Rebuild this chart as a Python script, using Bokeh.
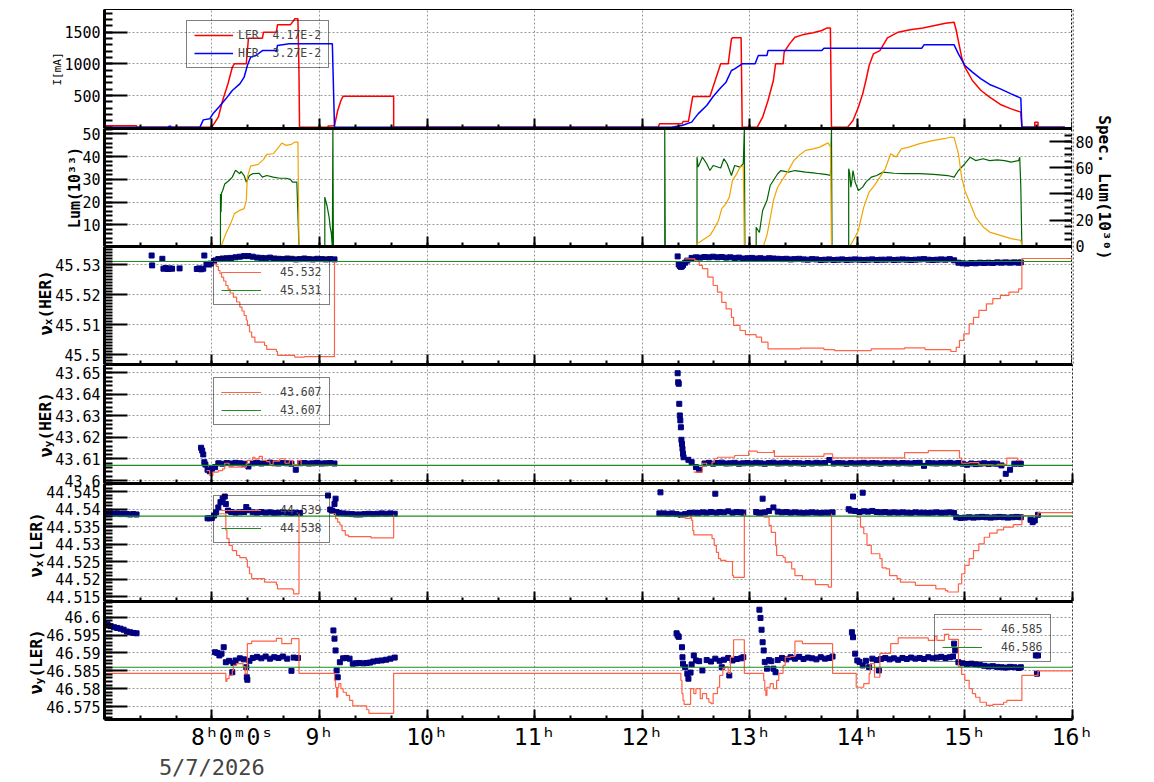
import math
from bokeh.plotting import figure
from bokeh.layouts import column, row
from bokeh.models import (Range1d, LinearAxis, FixedTicker, SingleIntervalTicker,
                          CustomJSTickFormatter, Legend, LegendItem, Span)
from bokeh.core.properties import value
from bokeh.embed import file_html
from bokeh.resources import INLINE

# ---------------------------------------------------------------- data
# time in hours of the day, values as logged

LER_CURRENT = [
    (7.00, 21), (7.30, 21), (7.30, 0), (8.00, 0), (8.06, 157), (8.10, 421), (8.15, 685),
    (8.19, 947), (8.21, 1000), (8.32, 1000), (8.34, 1405), (8.47, 1405), (8.48, 1500),
    (8.60, 1500), (8.61, 1616), (8.73, 1616), (8.75, 1660), (8.77, 1711), (8.80, 1711),
    (8.81, 843), (8.815, 0), (9.08, 0), (9.08, 20), (9.12, 20), (9.14, 26), (9.17, 263),
    (9.20, 421), (9.22, 489), (9.69, 489), (9.69, 0), (12.15, 0), (12.16, 52), (12.37, 52),
    (12.38, 89), (12.43, 89), (12.47, 484), (12.63, 484), (12.73, 1000), (12.80, 1000),
    (12.83, 1395), (12.84, 1411), (12.92, 1411), (12.93, 0), (13.07, 0), (13.12, 157),
    (13.17, 421), (13.22, 737), (13.24, 1000), (13.31, 1000), (13.32, 1184), (13.37, 1316),
    (13.42, 1421), (13.49, 1458), (13.59, 1490), (13.67, 1527), (13.72, 1568), (13.75, 1568),
    (13.76, 0), (13.91, 0), (13.96, 105), (14.01, 315), (14.05, 526), (14.08, 737),
    (14.11, 974), (14.15, 1158), (14.21, 1210), (14.28, 1411), (14.38, 1500), (14.49, 1537),
    (14.61, 1568), (14.72, 1605), (14.82, 1642), (14.90, 1658), (14.92, 1527), (14.97, 1105),
    (15.00, 947), (15.07, 737), (15.15, 579), (15.23, 473), (15.33, 358), (15.43, 289),
    (15.52, 237), (15.53, 0), (15.65, 0), (15.65, 78), (15.68, 78), (15.68, 0), (15.93, 0),
]
HER_CURRENT = [
    (7.00, 0), (7.60, 0), (7.60, 15), (7.62, 15), (7.62, 0), (7.89, 0), (7.92, 115),
    (7.98, 131), (8.01, 210), (8.07, 326), (8.13, 447), (8.19, 579), (8.26, 684), (8.30, 789),
    (8.33, 974), (8.36, 1105), (8.41, 1132), (8.47, 1210), (8.60, 1210), (8.61, 1290),
    (8.72, 1316), (9.12, 1316), (9.14, 0), (12.27, 0), (12.37, 26), (12.46, 79), (12.52, 210),
    (12.60, 342), (12.66, 484), (12.73, 621), (12.78, 711), (12.83, 895), (12.86, 921),
    (12.93, 1000), (13.05, 1000), (13.08, 1132), (13.16, 1132), (13.17, 1210), (13.67, 1210),
    (13.69, 1248), (14.60, 1248), (14.62, 1300), (14.90, 1300), (14.94, 1158), (15.00, 974),
    (15.07, 869), (15.15, 763), (15.23, 674), (15.33, 605), (15.43, 526), (15.52, 458),
    (15.53, 0), (15.93, 0),
]
LER_LABEL = "LER  4.17E-2"
HER_LABEL = "HER  3.27E-2"
CURRENT_TITLE = "I[mA]"

# luminosity [10^33] and specific luminosity [10^30]
LUMINOSITY = [
    (8.08, 0), (8.08, 23.6), (8.085, 15.5), (8.09, 24.0), (8.10, 25.0), (8.12, 28.0),
    (8.16, 29.5), (8.19, 31.0), (8.22, 34.0), (8.26, 32.5), (8.27, 33.5), (8.30, 31.7),
    (8.32, 28.8), (8.35, 31.7), (8.38, 32.5), (8.44, 32.7), (8.47, 31.0), (8.51, 31.7),
    (8.57, 31.0), (8.63, 30.5), (8.69, 30.5), (8.73, 30.0), (8.75, 28.8), (8.79, 28.8),
    (8.80, 14.8), (8.81, 0), (9.05, 0), (9.05, 22.2), (9.07, 18.5), (9.09, 13.4),
    (9.10, 8.9), (9.11, 6.6), (9.12, 0), (9.125, 52.4), (9.13, 0), (12.21, 0), (12.21, 52.4),
    (12.215, 0), (12.51, 0), (12.51, 39.8), (12.52, 35.4), (12.56, 39.8), (12.60, 36.9),
    (12.63, 33.9), (12.66, 36.1), (12.73, 35.0), (12.76, 39.1), (12.79, 36.9), (12.83, 31.7),
    (12.86, 36.1), (12.91, 35.4), (12.94, 36.9), (12.95, 52.4), (12.955, 0), (13.06, 0),
    (13.06, 8.9), (13.09, 6.6), (13.12, 16.3), (13.16, 20.7), (13.19, 27.3), (13.22, 29.5),
    (13.26, 32.5), (13.29, 33.9), (13.36, 33.2), (13.42, 33.9), (13.52, 33.2), (13.59, 32.9),
    (13.65, 32.5), (13.72, 32.1), (13.75, 31.7), (13.76, 52.4), (13.765, 0), (13.92, 0),
    (13.92, 34.7), (13.93, 32.5), (13.94, 26.6), (13.95, 29.5), (13.96, 33.9), (13.98, 28.8),
    (14.01, 25.1), (14.05, 26.6), (14.08, 28.8), (14.13, 31.0), (14.18, 31.7), (14.24, 33.2),
    (14.34, 32.7), (14.44, 32.5), (14.58, 32.5), (14.71, 32.2), (14.84, 31.7), (14.90, 31.0),
    (14.94, 33.9), (15.00, 36.9), (15.05, 39.8), (15.10, 38.3), (15.17, 39.1), (15.23, 38.3),
    (15.30, 38.6), (15.37, 38.3), (15.43, 37.6), (15.50, 38.3), (15.51, 39.8), (15.52, 26.6),
    (15.53, 0), (15.93, 0),
]
SPEC_LUMINOSITY = [
    (8.08, 0), (8.09, 0.8), (8.13, 9.7), (8.18, 18.5), (8.21, 25.0), (8.26, 27.5),
    (8.30, 28.8), (8.32, 35.1), (8.33, 52.9), (8.36, 61.3), (8.43, 62.6), (8.48, 66.2),
    (8.51, 70.2), (8.57, 70.7), (8.61, 74.6), (8.65, 78.9), (8.69, 77.1), (8.74, 77.9),
    (8.77, 79.6), (8.80, 79.6), (8.81, 0), (12.51, 0), (12.51, 2.0), (12.56, 4.6),
    (12.63, 8.4), (12.66, 12.2), (12.71, 19.8), (12.74, 28.8), (12.78, 32.6), (12.81, 37.6),
    (12.84, 50.4), (12.88, 55.5), (12.91, 60.5), (12.94, 61.8), (12.95, 0), (13.12, 0),
    (13.13, 1.0), (13.16, 8.4), (13.19, 21.1), (13.22, 35.1), (13.26, 45.3), (13.29, 49.1),
    (13.36, 58.0), (13.41, 65.6), (13.46, 69.5), (13.52, 73.3), (13.59, 74.5), (13.65, 75.8),
    (13.70, 77.9), (13.73, 79.0), (13.75, 75.8), (13.76, 0), (13.93, 0), (13.98, 7.1),
    (14.01, 12.2), (14.06, 30.0), (14.11, 41.5), (14.16, 46.6), (14.21, 52.9), (14.26, 59.3),
    (14.31, 70.7), (14.36, 68.2), (14.41, 74.5), (14.48, 75.8), (14.58, 78.4), (14.71, 80.9),
    (14.81, 82.2), (14.87, 83.5), (14.90, 83.0), (14.94, 70.7), (14.97, 52.9), (15.00, 42.7),
    (15.05, 32.6), (15.10, 22.4), (15.17, 14.8), (15.23, 10.9), (15.33, 8.4), (15.43, 5.9),
    (15.52, 4.6), (15.53, 0), (15.93, 0),
]
LUM_TITLE = "Lum(10\u00b3\u00b3)"
SPEC_TICKS = [0, 20, 40, 60, 80]
SPEC_TITLE = "Spec. Lum(10\u00b3\u2070)"

# HER horizontal tune: set value (steps), reference, measured
HER_NUX_SET_1 = [
    (8.01, 45.5302), (8.04, 45.5294), (8.06, 45.5280), (8.075, 45.5270), (8.09, 45.5258),
    (8.11, 45.5245), (8.13, 45.5230), (8.15, 45.5218), (8.17, 45.5205), (8.20, 45.5191),
    (8.23, 45.5175), (8.26, 45.5158), (8.28, 45.5145), (8.30, 45.5130), (8.32, 45.5115),
    (8.33, 45.5097), (8.35, 45.5075), (8.37, 45.5058), (8.40, 45.5041), (8.49, 45.5030),
    (8.51, 45.5017), (8.60, 45.5010), (8.61, 45.4997), (8.77, 45.4991), (8.86, 45.4993),
    (9.14, 45.5308),
]
HER_NUX_SET_2 = [
    (12.40, 45.5319), (12.49, 45.5311), (12.53, 45.5297), (12.56, 45.5286), (12.61, 45.5258),
    (12.66, 45.5230), (12.70, 45.5208), (12.74, 45.5174), (12.78, 45.5152), (12.83, 45.5124),
    (12.85, 45.5097), (12.91, 45.5080), (12.96, 45.5066), (13.06, 45.5058), (13.11, 45.5041),
    (13.17, 45.5019), (13.47, 45.5021), (13.69, 45.5016), (13.79, 45.5013), (14.13, 45.5019),
    (14.44, 45.5022), (14.63, 45.5016), (14.87, 45.5010), (14.92, 45.5024), (14.95, 45.5047),
    (14.99, 45.5069), (15.04, 45.5102), (15.08, 45.5124), (15.13, 45.5147), (15.20, 45.5169),
    (15.26, 45.5186), (15.33, 45.5197), (15.41, 45.5208), (15.50, 45.5219), (15.53, 45.532),
    (16.00, 45.532),
]
HER_NUX_SET_LAST = 45.532
HER_NUX_REF = 45.531
HER_NUX_MEAS = [
    (7.44, 45.5330), (7.445, 45.5297), (7.54, 45.5319), (7.55, 45.5286), (7.57, 45.5288),
    (7.59, 45.5285), (7.61, 45.5287), (7.63, 45.5286), (7.70, 45.5287), (7.86, 45.5285),
    (7.88, 45.5287), (7.90, 45.5284), (7.92, 45.5286), (7.93, 45.5330), (7.95, 45.5302),
    (7.97, 45.5300), (7.99, 45.5303),
    (8.02, 45.5312), (8.06, 45.5318), (8.10, 45.5320), (8.14, 45.5321), (8.18, 45.5322),
    (8.22, 45.5324), (8.26, 45.5326), (8.30, 45.5328), (8.34, 45.5328), (8.38, 45.5326),
    (8.42, 45.5323), (8.46, 45.5322), (8.50, 45.5321), (8.54, 45.5323), (8.58, 45.5320),
    (8.62, 45.5319), (8.66, 45.5318), (8.70, 45.5320), (8.74, 45.5319), (8.78, 45.5317),
    (8.82, 45.5318), (8.86, 45.5320), (8.90, 45.5318), (8.94, 45.5317), (8.98, 45.5319),
    (9.02, 45.5318), (9.06, 45.5317), (9.10, 45.5318), (9.14, 45.5317),
    (12.33, 45.5327), (12.34, 45.5300), (12.35, 45.5295), (12.36, 45.5292), (12.37, 45.5294),
    (12.38, 45.5298), (12.40, 45.5306), (12.42, 45.5313),
    (12.46, 45.5322), (12.50, 45.5324), (12.54, 45.5323), (12.58, 45.5325), (12.62, 45.5324),
    (12.66, 45.5326), (12.70, 45.5324), (12.74, 45.5325), (12.78, 45.5323), (12.82, 45.5324),
    (12.86, 45.5322), (12.90, 45.5323), (12.94, 45.5320), (12.98, 45.5321), (13.02, 45.5322),
    (13.06, 45.5320), (13.10, 45.5321), (13.14, 45.5319), (13.18, 45.5321), (13.22, 45.5320),
    (13.26, 45.5319), (13.30, 45.5318), (13.34, 45.5319), (13.38, 45.5317), (13.42, 45.5318),
    (13.46, 45.5319), (13.50, 45.5317), (13.54, 45.5316), (13.58, 45.5318), (13.62, 45.5317),
    (13.66, 45.5315), (13.70, 45.5316), (13.74, 45.5317), (13.78, 45.5315), (13.82, 45.5316),
    (13.86, 45.5317), (13.90, 45.5315), (13.94, 45.5316), (13.98, 45.5317), (14.02, 45.5316),
    (14.06, 45.5315), (14.10, 45.5316), (14.14, 45.5317), (14.18, 45.5315), (14.22, 45.5316),
    (14.26, 45.5316), (14.30, 45.5317), (14.34, 45.5315), (14.38, 45.5316), (14.42, 45.5317),
    (14.46, 45.5316), (14.50, 45.5315), (14.54, 45.5316), (14.58, 45.5317), (14.62, 45.5318),
    (14.66, 45.5316), (14.70, 45.5315), (14.74, 45.5316), (14.78, 45.5317), (14.82, 45.5316),
    (14.86, 45.5318), (14.90, 45.5314), (14.94, 45.5306), (14.98, 45.5304), (15.02, 45.5303),
    (15.06, 45.5305), (15.10, 45.5304), (15.14, 45.5306), (15.18, 45.5305), (15.22, 45.5306),
    (15.26, 45.5305), (15.30, 45.5307), (15.34, 45.5306), (15.38, 45.5307), (15.42, 45.5306),
    (15.46, 45.5307), (15.50, 45.5306), (15.52, 45.5307),
]

# HER vertical tune
HER_NUY_SET_1 = [
    (7.95, 43.6046), (7.98, 43.6023), (8.01, 43.6039), (8.06, 43.6046), (8.10, 43.6054),
    (8.12, 43.6080), (8.16, 43.6062), (8.32, 43.6077), (8.33, 43.6093), (8.38, 43.6108),
    (8.40, 43.6100), (8.44, 43.6112), (8.47, 43.6093), (8.51, 43.6088), (8.54, 43.6074),
    (8.57, 43.6090), (8.63, 43.6101), (8.68, 43.6080), (8.72, 43.6093), (8.75, 43.6074),
    (8.80, 43.6093), (8.83, 43.6070), (9.14, 43.6070),
]
HER_NUY_SET_2 = [
    (12.48, 43.6039), (12.56, 43.6080), (12.60, 43.6070), (12.65, 43.6085), (12.67, 43.6101),
    (12.70, 43.6108), (12.86, 43.6116), (12.99, 43.6136), (13.07, 43.6130), (13.22, 43.6139),
    (13.23, 43.6112), (13.69, 43.6124), (13.77, 43.6105), (14.44, 43.6129), (14.66, 43.6139),
    (14.95, 43.6104), (14.97, 43.6080), (15.04, 43.6083), (15.13, 43.6073), (15.26, 43.6070),
    (15.30, 43.6075), (15.39, 43.6104), (15.49, 43.6093), (15.53, 43.6093),
]
HER_NUY_SET_LAST = 43.607
HER_NUY_REF = 43.607
HER_NUY_MEAS = [
    (7.90, 43.6152), (7.91, 43.6139), (7.92, 43.6121), (7.93, 43.6085), (7.94, 43.6074),
    (7.96, 43.6050), (7.98, 43.6043), (8.00, 43.6054), (8.03, 43.6062), (8.06, 43.6080),
    (8.10, 43.6078), (8.14, 43.6081), (8.18, 43.6079), (8.22, 43.6082), (8.26, 43.6080),
    (8.30, 43.6078), (8.34, 43.6065), (8.38, 43.6080), (8.42, 43.6082), (8.46, 43.6079),
    (8.50, 43.6081), (8.54, 43.6083), (8.58, 43.6080), (8.62, 43.6079), (8.66, 43.6081),
    (8.70, 43.6080), (8.74, 43.6078), (8.78, 43.6050), (8.82, 43.6080), (8.86, 43.6081),
    (8.90, 43.6079), (8.94, 43.6080), (8.98, 43.6082), (9.02, 43.6079), (9.06, 43.6080),
    (9.10, 43.6081), (9.14, 43.6079),
    (12.33, 43.6498), (12.335, 43.6456), (12.34, 43.6449), (12.345, 43.6356), (12.35, 43.6302),
    (12.355, 43.6279), (12.36, 43.6247), (12.365, 43.6189), (12.37, 43.6170), (12.375, 43.6147),
    (12.38, 43.6124), (12.385, 43.6108), (12.43, 43.6096), (12.46, 43.6085), (12.50, 43.6062),
    (12.53, 43.6050),
    (12.58, 43.6079), (12.62, 43.6082), (12.66, 43.6078), (12.70, 43.6081), (12.74, 43.6083),
    (12.78, 43.6079), (12.82, 43.6080), (12.86, 43.6082), (12.90, 43.6078), (12.94, 43.6080),
    (12.98, 43.6081), (13.02, 43.6079), (13.06, 43.6082), (13.10, 43.6080), (13.14, 43.6078),
    (13.18, 43.6081), (13.22, 43.6083), (13.26, 43.6079), (13.30, 43.6080), (13.34, 43.6082),
    (13.38, 43.6079), (13.42, 43.6081), (13.46, 43.6080), (13.50, 43.6078), (13.54, 43.6081),
    (13.58, 43.6079), (13.62, 43.6082), (13.66, 43.6080), (13.70, 43.6081), (13.74, 43.6095),
    (13.78, 43.6079), (13.82, 43.6081), (13.86, 43.6080), (13.90, 43.6078), (13.94, 43.6081),
    (13.98, 43.6079), (14.02, 43.6080), (14.06, 43.6082), (14.10, 43.6079), (14.14, 43.6081),
    (14.18, 43.6080), (14.22, 43.6078), (14.26, 43.6081), (14.30, 43.6080), (14.34, 43.6082),
    (14.38, 43.6079), (14.42, 43.6081), (14.46, 43.6080), (14.50, 43.6079), (14.54, 43.6081),
    (14.58, 43.6082), (14.62, 43.6068), (14.66, 43.6081), (14.70, 43.6080), (14.74, 43.6079),
    (14.78, 43.6081), (14.82, 43.6080), (14.86, 43.6082), (14.90, 43.6079), (14.94, 43.6081),
    (14.98, 43.6078), (15.02, 43.6073), (15.06, 43.6079), (15.10, 43.6076), (15.14, 43.6078),
    (15.18, 43.6080), (15.22, 43.6077), (15.26, 43.6079), (15.30, 43.6078), (15.34, 43.6070),
    (15.38, 43.6031), (15.42, 43.6050), (15.46, 43.6078), (15.50, 43.6079), (15.52, 43.6078),
]

# LER horizontal tune
LER_NUX_SET_1 = [
    (8.07, 44.5387), (8.13, 44.5341), (8.14, 44.5316), (8.16, 44.5297), (8.19, 44.5282),
    (8.23, 44.5268), (8.26, 44.5262), (8.32, 44.5256), (8.33, 44.5235), (8.35, 44.5216),
    (8.37, 44.5202), (8.49, 44.5192), (8.60, 44.5185), (8.61, 44.5173), (8.75, 44.5170),
    (8.76, 44.5159), (8.81, 44.5387),
]
LER_NUX_SET_2 = [
    (9.13, 44.5387), (9.15, 44.5373), (9.17, 44.5363), (9.19, 44.5355), (9.21, 44.5339),
    (9.24, 44.5326), (9.27, 44.5322), (9.48, 44.5318), (9.69, 44.5385),
]
LER_NUX_SET_3 = [
    (12.35, 44.5377), (12.40, 44.5374), (12.45, 44.5377), (12.46, 44.5368), (12.47, 44.5339),
    (12.48, 44.5327), (12.65, 44.5316), (12.67, 44.5297), (12.69, 44.5277), (12.71, 44.5259),
    (12.73, 44.5254), (12.78, 44.5251), (12.84, 44.5211), (12.85, 44.5206), (12.95, 44.5387),
]
LER_NUX_SET_4 = [
    (13.13, 44.5377), (13.18, 44.5354), (13.20, 44.5334), (13.24, 44.5297), (13.25, 44.5268),
    (13.31, 44.5263), (13.33, 44.5249), (13.39, 44.5230), (13.42, 44.5211), (13.49, 44.5199),
    (13.61, 44.5185), (13.73, 44.5178), (13.76, 44.5387),
]
LER_NUX_SET_5 = [
    (13.99, 44.5377), (14.03, 44.5349), (14.06, 44.5330), (14.09, 44.5297), (14.13, 44.5273),
    (14.21, 44.5259), (14.23, 44.5233), (14.27, 44.5230), (14.30, 44.5211), (14.37, 44.5202),
    (14.40, 44.5192), (14.54, 44.5183), (14.73, 44.5173), (14.82, 44.5168), (14.84, 44.5164),
    (14.94, 44.5187), (14.97, 44.5216), (15.00, 44.5240), (15.04, 44.5259), (15.08, 44.5282),
    (15.13, 44.5301), (15.18, 44.5320), (15.23, 44.5332), (15.30, 44.5341), (15.36, 44.5349),
    (15.45, 44.5356), (15.53, 44.5382), (15.68, 44.539), (16.00, 44.539),
]
LER_NUX_SET_LAST = 44.539
LER_NUX_REF = 44.538
LER_NUX_MEAS = [
    (7.00, 44.5388), (7.03, 44.5387), (7.06, 44.5388), (7.09, 44.5387), (7.12, 44.5388),
    (7.15, 44.5386), (7.18, 44.5387), (7.21, 44.5386), (7.24, 44.5385), (7.27, 44.5386),
    (7.30, 44.5385),
    (7.96, 44.5374), (7.98, 44.5374), (8.00, 44.5375), (8.02, 44.5382), (8.04, 44.5391),
    (8.06, 44.5405), (8.08, 44.5420), (8.10, 44.5430), (8.12, 44.5436), (8.13, 44.5415),
    (8.15, 44.5396), (8.18, 44.5392), (8.22, 44.5390), (8.26, 44.5391), (8.30, 44.5392),
    (8.32, 44.5406), (8.34, 44.5397), (8.38, 44.5391), (8.42, 44.5390), (8.46, 44.5392),
    (8.50, 44.5390), (8.54, 44.5391), (8.58, 44.5389), (8.62, 44.5390), (8.66, 44.5391),
    (8.70, 44.5390), (8.74, 44.5389), (8.78, 44.5390), (8.82, 44.5389),
    (9.08, 44.5439), (9.10, 44.5399), (9.12, 44.5396), (9.14, 44.5415), (9.15, 44.5430),
    (9.16, 44.5392), (9.18, 44.5389), (9.22, 44.5388), (9.26, 44.5387), (9.30, 44.5386),
    (9.34, 44.5385), (9.38, 44.5385), (9.42, 44.5386), (9.46, 44.5387), (9.50, 44.5386),
    (9.54, 44.5387), (9.58, 44.5388), (9.62, 44.5387), (9.66, 44.5388), (9.70, 44.5387),
    (12.16, 44.5388), (12.17, 44.5448), (12.20, 44.5388), (12.24, 44.5387), (12.28, 44.5388),
    (12.32, 44.5386), (12.36, 44.5384), (12.40, 44.5386), (12.44, 44.5389), (12.48, 44.5390),
    (12.52, 44.5389), (12.56, 44.5391), (12.60, 44.5390), (12.64, 44.5392), (12.68, 44.5444),
    (12.69, 44.5390), (12.72, 44.5392), (12.76, 44.5391), (12.80, 44.5394), (12.84, 44.5390),
    (12.88, 44.5392), (12.92, 44.5391), (12.94, 44.5390),
    (13.06, 44.5392), (13.08, 44.5390), (13.10, 44.5389), (13.12, 44.5430), (13.14, 44.5391),
    (13.18, 44.5395), (13.22, 44.5405), (13.26, 44.5393), (13.30, 44.5391), (13.34, 44.5392),
    (13.38, 44.5390), (13.42, 44.5391), (13.46, 44.5390), (13.50, 44.5389), (13.54, 44.5390),
    (13.58, 44.5391), (13.62, 44.5390), (13.66, 44.5389), (13.70, 44.5390), (13.74, 44.5390),
    (13.77, 44.5391),
    (13.92, 44.5400), (13.94, 44.5396), (13.96, 44.5436), (13.98, 44.5395), (14.02, 44.5392),
    (14.05, 44.5447), (14.06, 44.5394), (14.10, 44.5393), (14.14, 44.5395), (14.18, 44.5392),
    (14.22, 44.5391), (14.26, 44.5392), (14.30, 44.5390), (14.34, 44.5391), (14.38, 44.5390),
    (14.42, 44.5391), (14.46, 44.5390), (14.50, 44.5389), (14.54, 44.5391), (14.58, 44.5390),
    (14.62, 44.5390), (14.66, 44.5389), (14.70, 44.5390), (14.74, 44.5391), (14.78, 44.5389),
    (14.82, 44.5390), (14.86, 44.5391), (14.90, 44.5389), (14.92, 44.5377), (14.96, 44.5375),
    (15.00, 44.5376), (15.04, 44.5377), (15.08, 44.5376), (15.12, 44.5377), (15.16, 44.5378),
    (15.20, 44.5377), (15.24, 44.5376), (15.28, 44.5377), (15.32, 44.5378), (15.36, 44.5377),
    (15.40, 44.5376), (15.44, 44.5377), (15.48, 44.5378), (15.52, 44.5377),
    (15.61, 44.5370), (15.63, 44.5363), (15.65, 44.5368), (15.68, 44.5384),
]

# LER vertical tune
LER_NUY_SET = [
    (7.00, 46.5843), (8.13, 46.5820), (8.14, 46.5828), (8.16, 46.5837), (8.19, 46.5851),
    (8.20, 46.5865), (8.23, 46.5870), (8.29, 46.5862), (8.31, 46.5842), (8.33, 46.5926),
    (8.37, 46.5933), (8.60, 46.5941), (8.65, 46.5926), (8.74, 46.5940), (8.81, 46.5843),
    (9.14, 46.5823), (9.15, 46.5804), (9.16, 46.5776), (9.17, 46.5804), (9.18, 46.5814),
    (9.20, 46.5800), (9.22, 46.5790), (9.25, 46.5781), (9.28, 46.5767), (9.31, 46.5752),
    (9.44, 46.5741), (9.46, 46.5731), (9.69, 46.5843), (12.36, 46.5823), (12.37, 46.5786),
    (12.38, 46.5767), (12.39, 46.5756), (12.45, 46.5800), (12.48, 46.5786), (12.50, 46.5800),
    (12.54, 46.5772), (12.56, 46.5786), (12.60, 46.5772), (12.62, 46.5762), (12.64, 46.5758),
    (12.66, 46.5786), (12.70, 46.5804), (12.72, 46.5837), (12.75, 46.5856), (12.77, 46.5861),
    (12.80, 46.5843), (12.82, 46.5888), (12.85, 46.5937), (12.95, 46.5843), (13.13, 46.5823),
    (13.14, 46.5795), (13.15, 46.5781), (13.16, 46.5804), (13.19, 46.5814), (13.22, 46.5800),
    (13.25, 46.5823), (13.27, 46.5843), (13.31, 46.5865), (13.33, 46.5888), (13.38, 46.5890),
    (13.42, 46.5933), (13.49, 46.5926), (13.77, 46.5843), (13.99, 46.5804), (14.06, 46.5814),
    (14.11, 46.5842), (14.12, 46.5870), (14.16, 46.5832), (14.21, 46.5899), (14.31, 46.5926),
    (14.38, 46.5942), (14.66, 46.5935), (14.72, 46.5947), (14.74, 46.5935), (14.81, 46.5952),
    (14.85, 46.5938), (14.94, 46.5861), (14.97, 46.5840), (15.00, 46.5823), (15.04, 46.5800),
    (15.07, 46.5786), (15.10, 46.5776), (15.14, 46.5762), (15.20, 46.5753), (15.26, 46.5756),
    (15.36, 46.5762), (15.39, 46.5767), (15.53, 46.5837), (15.68, 46.585), (16.00, 46.585),
]
LER_NUY_SET_LAST = 46.585
LER_NUY_REF = 46.586
LER_NUY_MEAS = [
    (7.00, 46.5982), (7.03, 46.5980), (7.06, 46.5975), (7.09, 46.5972), (7.12, 46.5970),
    (7.15, 46.5968), (7.18, 46.5965), (7.21, 46.5960), (7.24, 46.5958), (7.27, 46.5956),
    (7.30, 46.5955),
    (8.03, 46.5902), (8.05, 46.5900), (8.07, 46.5893), (8.09, 46.5898), (8.11, 46.5916),
    (8.13, 46.5874), (8.16, 46.5878), (8.19, 46.5846), (8.20, 46.5872), (8.22, 46.5879),
    (8.26, 46.5885), (8.30, 46.5882), (8.32, 46.5860), (8.325, 46.5832), (8.33, 46.5825),
    (8.35, 46.5878), (8.38, 46.5886), (8.42, 46.5889), (8.46, 46.5885), (8.50, 46.5890),
    (8.54, 46.5884), (8.58, 46.5888), (8.62, 46.5886), (8.66, 46.5890), (8.70, 46.5884),
    (8.74, 46.5850), (8.76, 46.5887), (8.80, 46.5886),
    (9.13, 46.5963), (9.14, 46.5940), (9.15, 46.5907), (9.16, 46.5851), (9.17, 46.5832),
    (9.19, 46.5874), (9.22, 46.5885), (9.25, 46.5886), (9.28, 46.5884), (9.31, 46.5870),
    (9.34, 46.5871), (9.37, 46.5872), (9.41, 46.5871), (9.44, 46.5872), (9.47, 46.5873),
    (9.50, 46.5876), (9.54, 46.5878), (9.58, 46.5879), (9.62, 46.5881), (9.66, 46.5884),
    (9.70, 46.5887),
    (12.32, 46.5955), (12.33, 46.5949), (12.34, 46.5945), (12.37, 46.5916), (12.375, 46.5888),
    (12.38, 46.5870), (12.40, 46.5860), (12.42, 46.5842), (12.43, 46.5828), (12.45, 46.5845),
    (12.46, 46.5868), (12.48, 46.5893), (12.50, 46.5879), (12.53, 46.5877), (12.56, 46.5851),
    (12.60, 46.5880), (12.64, 46.5876), (12.68, 46.5884), (12.72, 46.5878), (12.74, 46.5860),
    (12.76, 46.5881), (12.80, 46.5886), (12.81, 46.5837), (12.84, 46.5879), (12.88, 46.5883),
    (12.92, 46.5885), (12.94, 46.5888),
    (13.09, 46.6021), (13.10, 46.5998), (13.11, 46.5965), (13.12, 46.5930), (13.13, 46.5907),
    (13.14, 46.5875), (13.16, 46.5856), (13.18, 46.5880), (13.20, 46.5877), (13.22, 46.5856),
    (13.24, 46.5846), (13.26, 46.5880), (13.30, 46.5886), (13.34, 46.5882), (13.38, 46.5888),
    (13.42, 46.5884), (13.46, 46.5889), (13.50, 46.5883), (13.54, 46.5887), (13.58, 46.5885),
    (13.62, 46.5882), (13.66, 46.5888), (13.70, 46.5884), (13.74, 46.5886), (13.77, 46.5890),
    (13.95, 46.5958), (13.96, 46.5944), (13.98, 46.5898), (14.00, 46.5879), (14.02, 46.5875),
    (14.05, 46.5865), (14.08, 46.5878), (14.11, 46.5860), (14.14, 46.5884), (14.18, 46.5880),
    (14.20, 46.5851), (14.22, 46.5883), (14.26, 46.5886), (14.30, 46.5882), (14.34, 46.5885),
    (14.38, 46.5881), (14.42, 46.5886), (14.46, 46.5883), (14.50, 46.5887), (14.54, 46.5884),
    (14.58, 46.5886), (14.62, 46.5883), (14.66, 46.5888), (14.70, 46.5885), (14.74, 46.5887),
    (14.78, 46.5889), (14.82, 46.5886), (14.86, 46.5888), (14.89, 46.5890), (14.90, 46.5926),
    (14.91, 46.5907), (14.94, 46.5874), (14.98, 46.5871), (15.02, 46.5869), (15.06, 46.5870),
    (15.10, 46.5868), (15.14, 46.5866), (15.18, 46.5864), (15.22, 46.5862), (15.26, 46.5863),
    (15.30, 46.5861), (15.34, 46.5860), (15.38, 46.5859), (15.42, 46.5861), (15.46, 46.5860),
    (15.50, 46.5858), (15.52, 46.5860),
    (15.66, 46.5893), (15.67, 46.5842), (15.68, 46.5893),
]

# labelled values on each panel's vertical scale
CURRENT_TICKS = [500, 1000, 1500]
LUM_TICKS = [10, 20, 30, 40, 50]
HER_NUX_TICKS = [45.5, 45.51, 45.52, 45.53]
HER_NUY_TICKS = [43.6, 43.61, 43.62, 43.63, 43.64, 43.65]
LER_NUX_TICKS = [44.515, 44.52, 44.525, 44.53, 44.535, 44.54, 44.545]
LER_NUY_TICKS = [46.575, 46.58, 46.585, 46.59, 46.595, 46.6]

# the first hour label carries the full time stamp; figure spaces in front keep
# the hour digit next to its tick
FIRST_HOUR_LABEL = "\u2007\u2007\u20078\u02b00\u1d500\u02e2"
DATE_LABEL = "5/7/2026"
T_START, T_END = 7.002, 16.0005

# ---------------------------------------------------------------- geometry & styling
MONO = "DejaVu Sans Mono"
GRID = "#9a9a9a"
C_LER, C_HER = "#ff0000", "#0000ff"
C_LUM, C_SPEC = "#006400", "#f0a500"
C_SET, C_REF, C_MEAS = "#ff6347", "#1e8f1e", "#000080"
FRAME_W = 968
CANVAS_H = 782
LEFT_W = 102          # strip carrying the left-hand scales and titles
RIGHT_W = 82
# value range and (top, bottom) canvas rows of each panel frame
PANELS = {
    "cur": ((-21.3, 1858.6), (9, 128)),
    "lum": ((0.44, 52.42), (128, 246)),
    "hnx": ((45.49667, 45.536), (246, 364)),
    "hny": ((43.59861, 43.65385), (364, 483)),
    "lnx": ((44.5137, 44.54732), (483, 601)),
    "lny": ((46.57137, 46.6044), (601, 719)),
}

x_range = Range1d(T_START, T_END)
hours = SingleIntervalTicker(interval=1, num_minor_ticks=3)


def xy(pairs):
    return [a for a, _ in pairs], [b for _, b in pairs]


def panel(key, top=0, bottom=0, right=RIGHT_W, top_line=3):
    (y0, y1), (r0, r1) = PANELS[key]
    p = figure(x_range=x_range, y_range=Range1d(y0, y1), frame_width=FRAME_W,
               frame_height=r1 - r0, min_border_left=2, min_border_right=right,
               min_border_top=top, min_border_bottom=bottom,
               output_backend="svg", toolbar_location=None)
    p.outline_line_color = "black"
    p.outline_line_dash = "2 2"
    p.outline_line_width = 1
    xa = p.below[0]
    xa.ticker = hours
    xa.axis_line_width = 3
    xa.major_tick_in, xa.major_tick_out = 10, 0
    xa.minor_tick_in, xa.minor_tick_out = 4, 0
    xa.major_tick_line_width = 2
    xa.minor_tick_line_width = 2
    xa.major_label_text_font_size = "0px"
    xa.major_label_text_color = None
    xa.major_label_standoff = 0
    p.xgrid.ticker = hours
    for g in (p.xgrid[0], p.ygrid[0]):
        g.grid_line_color = GRID
        g.grid_line_dash = "2 2"
    top_axis = LinearAxis(ticker=FixedTicker(ticks=[]), axis_line_width=top_line,
                          major_tick_in=0, major_tick_out=0, minor_tick_in=0, minor_tick_out=0,
                          major_label_text_font_size="0px", major_label_text_color=None,
                          major_label_standoff=0)
    p.add_layout(top_axis, "above")
    ya = p.left[0]
    ya.axis_line_width = 3
    ya.major_tick_in, ya.major_tick_out = 23, 0
    ya.minor_tick_in, ya.minor_tick_out = 8, 0
    ya.major_tick_line_width = 2
    ya.minor_tick_line_width = 2
    # the numbers of this scale are written in the left strip
    ya.major_label_text_font_size = "0px"
    ya.major_label_text_color = None
    ya.major_label_standoff = 0
    return p


def side_box(width, height, y_range=None, top=0):
    """Blank strip beside the panels that carries scale numbers and titles."""
    s = figure(width=width, height=height, x_range=Range1d(0, width),
               y_range=y_range if y_range is not None else Range1d(0, height),
               min_border=0, min_border_top=top, x_axis_type=None, y_axis_type=None,
               output_backend="svg", toolbar_location=None)
    s.grid.visible = False
    s.outline_line_color = None
    return s


def set_y_ticker(p, ticker):
    p.left[0].ticker = ticker
    p.ygrid[0].ticker = ticker


def add_legend(p, entries, loc, glyph_w=40, standoff=19):
    items = [LegendItem(label=lab, renderers=rs) for lab, rs in entries]
    p.add_layout(Legend(items=items, location=loc, margin=0, padding=7, spacing=4,
                        glyph_width=glyph_w, glyph_height=12, label_height=12,
                        label_standoff=standoff, label_text_font=MONO,
                        label_text_font_size="11.5px", background_fill_alpha=0,
                        border_line_color="black", border_line_width=1))


# ---------------------------------------------------------------- panel 1: currents
p1 = panel("cur", top=9, top_line=1, right=0)
set_y_ticker(p1, FixedTicker(ticks=CURRENT_TICKS, minor_ticks=list(range(0, 1900, 100))))
r_ler = p1.line(*xy(LER_CURRENT), color=C_LER, line_width=1.5)
r_her = p1.line(*xy(HER_CURRENT), color=C_HER, line_width=1.5)
add_legend(p1, [(LER_LABEL, [r_ler]), (HER_LABEL, [r_her])], (82, 60), glyph_w=39, standoff=5)

# ---------------------------------------------------------------- panel 2: luminosity
SPEC_RANGE = (-0.1, 90.0)
p2 = panel("lum", right=0)
set_y_ticker(p2, SingleIntervalTicker(interval=10, num_minor_ticks=5))
p2.extra_y_ranges = {"spec": Range1d(*SPEC_RANGE)}
spec_axis = LinearAxis(y_range_name="spec",
                       ticker=SingleIntervalTicker(interval=20, num_minor_ticks=4),
                       axis_line_color=None, major_tick_in=23, major_tick_out=0,
                       minor_tick_in=8, minor_tick_out=0, major_tick_line_width=2,
                       minor_tick_line_width=2, major_label_text_font_size="0px",
                       major_label_text_color=None, major_label_standoff=0)
p2.add_layout(spec_axis, "right")
p2.line(*xy(LUMINOSITY), color=C_LUM, line_width=1.2)
p2.line(*xy(SPEC_LUMINOSITY), color=C_SPEC, line_width=1.2, y_range_name="spec")

# specific-luminosity scale in the right margin beside panels 1 to 3
# (strip frame spans canvas rows 9..364; panel 2 frame spans rows 128..246)
SPEC_PX_PER_UNIT = 118 / (SPEC_RANGE[1] - SPEC_RANGE[0])
spec_strip = side_box(RIGHT_W, 364, top=9,
                      y_range=Range1d(SPEC_RANGE[0] - 118 / SPEC_PX_PER_UNIT,
                                      SPEC_RANGE[1] + 119 / SPEC_PX_PER_UNIT))
spec_strip.add_layout(Span(location=0.5, dimension="height", line_color="black",
                           line_dash="2 2", line_width=1))
spec_strip.text(x=[3] * len(SPEC_TICKS), y=SPEC_TICKS, text=[str(t) for t in SPEC_TICKS],
                text_font=value(MONO), text_font_size="15px", text_align="left",
                text_baseline="middle", text_color="black")
spec_strip.text(x=[32], y=[(SPEC_RANGE[0] + SPEC_RANGE[1]) / 2], text=[SPEC_TITLE],
                angle=-math.pi / 2, text_font=value(MONO), text_font_size="16px",
                text_font_style="bold", text_align="center", text_baseline="middle",
                text_color="black")


# ---------------------------------------------------------------- panels 3-6: tunes
def tune_panel(key, interval, n_minor, meas, set_segments, ref, set_label, legend_loc,
               bottom=0, right=RIGHT_W):
    p = panel(key, bottom=bottom, right=right)
    set_y_ticker(p, SingleIntervalTicker(interval=interval, num_minor_ticks=n_minor))
    p.scatter(*xy(meas), marker="square", size=5, color=C_MEAS)
    set_rs = [p.step(*xy(seg), mode="after", color=C_SET, line_width=1.2) for seg in set_segments]
    r_ref = p.line([T_START, T_END], [ref, ref], color=C_REF, line_width=1.2)
    add_legend(p, [(f"{set_label:.3f}", set_rs), (f"{ref:.3f}", [r_ref])], legend_loc)
    return p


p3 = tune_panel("hnx", 0.01, 10, HER_NUX_MEAS, [HER_NUX_SET_1, HER_NUX_SET_2],
                HER_NUX_REF, HER_NUX_SET_LAST, (109, 59), right=0)
p4 = tune_panel("hny", 0.01, 5, HER_NUY_MEAS, [HER_NUY_SET_1, HER_NUY_SET_2],
                HER_NUY_REF, HER_NUY_SET_LAST, (109, 58))
p5 = tune_panel("lnx", 0.005, 5, LER_NUX_MEAS,
                [LER_NUX_SET_1, LER_NUX_SET_2, LER_NUX_SET_3, LER_NUX_SET_4, LER_NUX_SET_5],
                LER_NUX_REF, LER_NUX_SET_LAST, (109, 58))
p6 = tune_panel("lny", 0.005, 5, LER_NUY_MEAS, [LER_NUY_SET],
                LER_NUY_REF, LER_NUY_SET_LAST, (830, 57), bottom=63)

# time axis labels on the bottom panel
xa6 = p6.below[0]
xa6.major_label_text_color = "black"
xa6.major_label_text_font = MONO
xa6.major_label_text_font_size = "23px"
xa6.major_label_standoff = 4
xa6.formatter = CustomJSTickFormatter(args=dict(first=FIRST_HOUR_LABEL), code="""
const h = Math.round(tick);
return h === 8 ? first : h + "\u02b0";
""")
date_axis = LinearAxis(ticker=FixedTicker(ticks=[8]),
                       formatter=CustomJSTickFormatter(args=dict(label=DATE_LABEL), code="return label;"),
                       axis_line_color=None, major_tick_line_color=None, minor_tick_line_color=None,
                       major_tick_in=0, major_tick_out=0, minor_tick_in=0, minor_tick_out=0,
                       major_label_text_font=MONO, major_label_text_font_size="22px",
                       major_label_standoff=2)
p6.add_layout(date_axis, "below")

# ---------------------------------------------------------------- left strip: scales & titles
left_strip = side_box(LEFT_W, CANVAS_H)
for key, ((lo, hi), (r0, r1)) in PANELS.items():
    ppu = (r1 - r0) / (hi - lo)
    left_strip.extra_y_ranges[key] = Range1d(lo - (CANVAS_H - r1) / ppu, hi + r0 / ppu)

num_style = dict(text_font=value(MONO), text_font_size="15px", text_align="right",
                 text_baseline="middle", text_color="black")
for key, ticks in (("cur", CURRENT_TICKS), ("lum", LUM_TICKS), ("hnx", HER_NUX_TICKS),
                   ("hny", HER_NUY_TICKS), ("lnx", LER_NUX_TICKS), ("lny", LER_NUY_TICKS)):
    left_strip.text(x=[100] * len(ticks), y=ticks, text=[f"{t:g}" for t in ticks],
                    y_range_name=key, **num_style)


def side_title(key, x, text, size, bold):
    (lo, hi), _ = PANELS[key]
    left_strip.text(x=[x], y=[(lo + hi) / 2], text=[text], y_range_name=key,
                    angle=math.pi / 2, text_font=value(MONO), text_font_size=size,
                    text_font_style="bold" if bold else "normal", text_align="center",
                    text_baseline="middle", text_color="black")


side_title("cur", 57, CURRENT_TITLE, "11px", False)
side_title("lum", 74, LUM_TITLE, "15px", True)


def tune_title(key, sub, ring, x_base, lift):
    # nu, subscript plane, ring name, stacked upwards from the frame bottom (pixels)
    _, (r0, r1) = PANELS[key]
    y0 = CANVAS_H - r1 + lift
    common = dict(angle=math.pi / 2, text_font=value(MONO), text_font_style="bold",
                  text_align="left", text_baseline="alphabetic", text_color="black")
    left_strip.text(x=[x_base], y=[y0], text=["\u03bd"], text_font_size="17px", **common)
    left_strip.text(x=[x_base + 3], y=[y0 + 10.2], text=[sub], text_font_size="11px", **common)
    left_strip.text(x=[x_base], y=[y0 + 17.0], text=["(" + ring + ")"], text_font_size="16px",
                    **common)


tune_title("hnx", "x", "HER", 45, 29)
tune_title("hny", "y", "HER", 45, 26)
tune_title("lnx", "x", "LER", 35.5, 24)
tune_title("lny", "y", "LER", 35.5, 25)

layout = row(
    left_strip,
    column(row(column(p1, p2, p3, spacing=0), spec_strip, spacing=0), p4, p5, p6, spacing=0),
    spacing=0,
)
with open("out.html", "w", encoding="utf-8") as f:
    f.write(file_html(layout, INLINE))
